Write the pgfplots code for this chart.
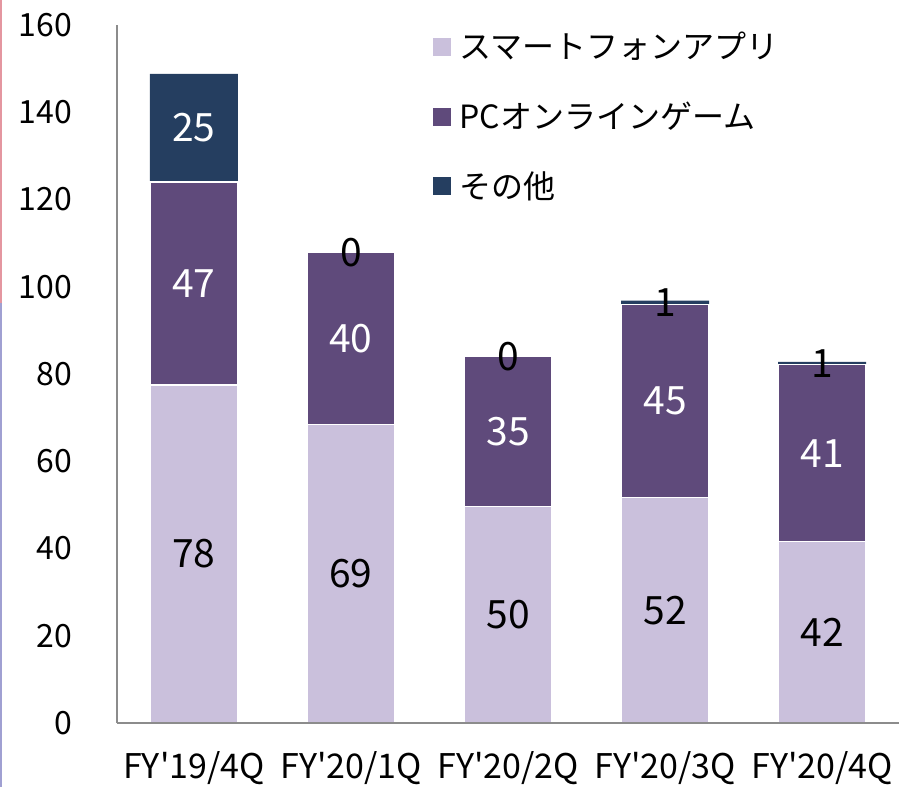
\documentclass[border=0pt]{standalone}
\usepackage{pgfplots}
\pgfplotsset{compat=1.18}
\usepackage{fontspec}
\setmainfont{Noto Sans CJK JP}[Ligatures=TeXOff]
\definecolor{cLight}{RGB}{202,192,220}
\definecolor{cPurple}{RGB}{95,74,123}
\definecolor{cNavy}{RGB}{37,62,96}
\definecolor{cAxis}{RGB}{140,140,140}
\definecolor{cPink}{RGB}{228,150,160}
\definecolor{cBlue}{RGB}{160,160,210}
\begin{document}
\begin{tikzpicture}
\path[use as bounding box] (-58.5pt,-32pt) rectangle (391pt,361.5pt);
\draw[cPink, line width=1pt] (-58pt,361.5pt) -- (-58pt,210pt);
\draw[cBlue, line width=1pt] (-58pt,210pt) -- (-58pt,-32pt);
\begin{axis}[
  at={(0pt,0pt)}, anchor=south west,
  scale only axis, width=391pt, height=349pt,
  xmin=-0.49, xmax=4.49, ymin=0, ymax=160,
  ybar stacked, bar width=44pt,
  axis on top,
  axis x line=bottom, axis y line=left,
  axis line style={draw=cAxis, line width=0.75pt, -},
  ytick={0,20,...,160},
  xtick={0,1,2,3,4},
  xticklabels={FY'19/4Q,FY'20/1Q,FY'20/2Q,FY'20/3Q,FY'20/4Q},
  major tick length=0pt,
  /pgf/number format/assume math mode=true,
  yticklabel style={font=\fontsize{16}{19}\selectfont, xshift=-19pt},
  xticklabel style={font=\fontsize{17}{20}\selectfont, yshift=-10.5pt},
  legend style={at={(0.404,0.996)}, anchor=north west, draw=none, fill=none,
    font=\fontsize{16}{19}\selectfont, row sep=16pt, inner sep=0pt},
  legend cell align=left,
  legend image code/.code={\draw[#1,draw=none] (0pt,-4.5pt) rectangle (9pt,4.5pt);},
]
\addplot[fill=cLight, draw=white, line width=0.6pt] coordinates {(0,77.5) (1,68.5) (2,49.6) (3,51.6) (4,41.6)};
\addplot[fill=cPurple, draw=white, line width=0.6pt] coordinates {(0,46.5) (1,39.4) (2,34.4) (3,44.4) (4,40.5)};
\addplot[fill=cNavy, draw=none] coordinates {(0,24.8) (1,0) (2,0) (3,0.8) (4,0.7)};
\legend{\hspace{2pt}スマートフォンアプリ,\hspace{2pt}PCオンラインゲーム,\hspace{2pt}その他}
\end{axis}
\begin{axis}[
  at={(0pt,0pt)}, anchor=south west,
  scale only axis, width=391pt, height=349pt,
  xmin=-0.49, xmax=4.49, ymin=0, ymax=160,
  hide axis, clip=false,
  nodes near coords, point meta=explicit symbolic,
  every node near coord/.append style={anchor=center, font=\fontsize{19.5}{22}\selectfont},
]
\addplot[only marks, mark=none, nodes near coords style={text=black}] coordinates {
  (0,38.75) [78] (1,34.25) [69] (2,24.8) [50] (3,25.8) [52] (4,20.8) [42]};
\addplot[only marks, mark=none, nodes near coords style={text=white}] coordinates {
  (0,100.75) [47] (1,88.2) [40] (2,66.8) [35] (3,73.8) [45] (4,61.85) [41] (0,136.4) [25]};
\addplot[only marks, mark=none, nodes near coords style={text=black}] coordinates {
  (1,107.9) [0] (2,84) [0] (3,96.4) [1] (4,82.45) [1]};
\end{axis}
\end{tikzpicture}
\end{document}
